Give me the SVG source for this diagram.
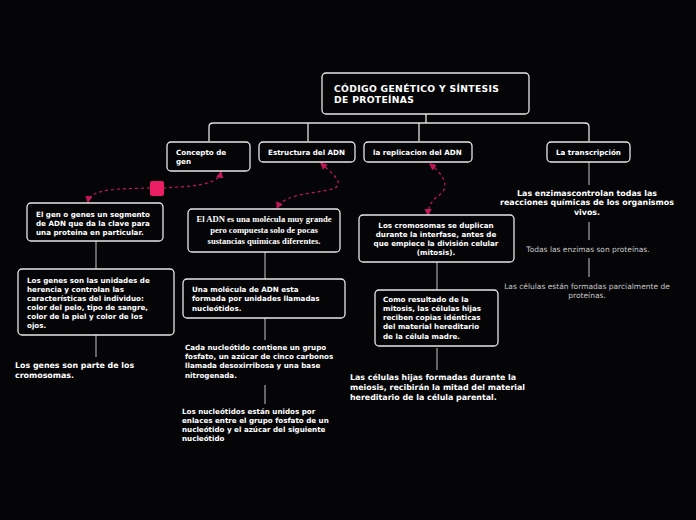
<svg xmlns="http://www.w3.org/2000/svg" width="696" height="520" viewBox="0 0 696 520">
<defs>
<style>
.bg{fill:#050507}
.box{fill:#050507;stroke:#e8e8e8;stroke-width:1.3}
.t{font-family:"DejaVu Sans",Verdana,sans-serif;font-weight:bold;fill:#ffffff;font-size:7.15px}
.tt{font-family:"DejaVu Sans",Verdana,sans-serif;font-weight:bold;fill:#ffffff;font-size:9.2px;letter-spacing:0.35px}
.big{font-family:"DejaVu Sans",Verdana,sans-serif;font-weight:bold;fill:#ffffff;font-size:7.9px}
.lt{font-family:"DejaVu Sans",Verdana,sans-serif;fill:#c8c8c8;font-size:7.5px}
.serif{font-family:"Liberation Serif","Times New Roman",serif;font-weight:bold;fill:#ffffff;font-size:8.6px}
.tree{fill:none;stroke:#e0e0e0;stroke-width:1.3}
.ln{fill:none;stroke:#9a9a9a;stroke-width:1.3}
.pk{fill:none;stroke:#c2185b;stroke-width:1.2;stroke-dasharray:3,3}
</style>
<marker id="ah" viewBox="0 0 6 6" refX="5" refY="3" markerWidth="6" markerHeight="6" orient="auto-start-reverse">
<path d="M0,0 L6,3 L0,6 z" fill="#c2185b"/>
</marker>
</defs>
<rect class="bg" x="0" y="0" width="696" height="520"/>

<g id="connectors">
<path class="tree" d="M426,114 V123 M209,141 V127 Q209,123 213,123 H585 Q589,123 589,127 V141 M308,141 V123 M419,141 V123"/>
<path class="ln" d="M96,241 V269"/>
<path class="ln" d="M96,335 V357"/>
<path class="ln" d="M265,252 V279"/>
<path class="ln" d="M265,318 V340"/>
<path class="ln" d="M265,385 V404"/>
<path class="ln" d="M437,262 V290"/>
<path class="ln" d="M437,348 V370"/>
<path class="ln" d="M589,162 V185"/>
<path class="ln" d="M589,222 V240"/>
<path class="ln" d="M589,258 V277"/>
<path class="pk" marker-start="url(#ah)" d="M221,172 C218,186 190,186 164,188"/>
<path class="pk" marker-end="url(#ah)" d="M150,188 C120,189 90,188 88,202"/>
<path class="pk" marker-start="url(#ah)" marker-end="url(#ah)" d="M321,163 C330,172 345,182 335,188 C320,194 285,192 277,208"/>
<path class="pk" marker-start="url(#ah)" marker-end="url(#ah)" d="M430,164 C440,172 450,183 442,193 C432,200 428,205 428,215"/>
<rect x="150" y="181" width="14" height="15" rx="2" fill="#e91e63"/>
</g>

<g id="title">
<rect class="box" x="322" y="73" width="207" height="41" rx="4"/>
<text class="tt" x="334" y="92">CÓDIGO GENÉTICO Y SÍNTESIS</text>
<text class="tt" x="334" y="103">DE PROTEÍNAS</text>
</g>

<g id="concepto">
<rect class="box" x="167" y="142" width="83" height="29" rx="4"/>
<text class="t" x="176" y="155">Concepto de</text>
<text class="t" x="176" y="164">gen</text>
</g>
<g id="estructura">
<rect class="box" x="259" y="142" width="96" height="20" rx="4"/>
<text class="t" x="268" y="155">Estructura del ADN</text>
</g>
<g id="replicacion">
<rect class="box" x="364" y="142" width="108" height="20" rx="4"/>
<text class="t" x="373" y="155">la replicacion del ADN</text>
</g>
<g id="transcripcion">
<rect class="box" x="547" y="142" width="83" height="20" rx="4"/>
<text class="t" x="556" y="155">La transcripción</text>
</g>

<g id="elgen">
<rect class="box" x="27" y="203" width="136" height="38" rx="4"/>
<text class="t" x="36" y="217">El gen o genes un segmento</text>
<text class="t" x="36" y="226">de ADN que da la clave  para</text>
<text class="t" x="36" y="235">una proteina en particular.</text>
</g>
<g id="losgenes">
<rect class="box" x="18" y="269" width="156" height="66" rx="4"/>
<text class="t" x="27" y="283">Los genes son las unidades de</text>
<text class="t" x="27" y="292">herencia y controlan las</text>
<text class="t" x="27" y="301">características del individuo:</text>
<text class="t" x="27" y="310">color del pelo, tipo de sangre,</text>
<text class="t" x="27" y="319">color de la piel y color de los</text>
<text class="t" x="27" y="328">ojos.</text>
</g>
<g id="cromosomas">
<text class="big" x="15" y="368">Los genes son parte de los</text>
<text class="big" x="15" y="378">cromosomas.</text>
</g>

<g id="eladn">
<rect class="box" x="188" y="209" width="152" height="43" rx="4"/>
<text class="serif" x="264" y="222" text-anchor="middle">El ADN es una molécula muy grande</text>
<text class="serif" x="264" y="233" text-anchor="middle">pero compuesta solo de pocas</text>
<text class="serif" x="264" y="244" text-anchor="middle">sustancias químicas diferentes.</text>
</g>
<g id="molecula">
<rect class="box" x="183" y="279" width="162" height="39" rx="4"/>
<text class="t" x="192" y="292">Una molécula de ADN esta</text>
<text class="t" x="192" y="301">formada por unidades llamadas</text>
<text class="t" x="192" y="311">nucleótidos.</text>
</g>
<g id="cada">
<text class="t" x="185" y="350">Cada nucleótido contiene un grupo</text>
<text class="t" x="185" y="359">fosfato, un azúcar de cinco carbonos</text>
<text class="t" x="185" y="368">llamada desoxirribosa y una base</text>
<text class="t" x="185" y="378">nitrogenada.</text>
</g>
<g id="losnucleotidos">
<text class="t" x="182" y="414">Los nucleótidos están unidos por</text>
<text class="t" x="182" y="423">enlaces entre el grupo fosfato de  un</text>
<text class="t" x="182" y="432">nucleótido y el azúcar del siguiente</text>
<text class="t" x="182" y="441">nucleótido</text>
</g>

<g id="loscromosomas">
<rect class="box" x="359" y="215" width="155" height="47" rx="4"/>
<text class="t" x="436" y="228" text-anchor="middle">Los cromosomas se duplican</text>
<text class="t" x="436" y="237" text-anchor="middle">durante la interfase, antes de</text>
<text class="t" x="436" y="246" text-anchor="middle">que empiece la división celular</text>
<text class="t" x="436" y="255" text-anchor="middle">(mitosis).</text>
</g>
<g id="comoresultado">
<rect class="box" x="375" y="290" width="123" height="56" rx="4"/>
<text class="t" x="383" y="302">Como resultado de la</text>
<text class="t" x="383" y="311">mitosis, las células hijas</text>
<text class="t" x="383" y="320">reciben copias idénticas</text>
<text class="t" x="383" y="329">del material hereditario</text>
<text class="t" x="383" y="339">de la célula madre.</text>
</g>
<g id="celulashijas">
<text class="big" x="350" y="380">Las células hijas formadas durante la</text>
<text class="big" x="350" y="390">meiosis, recibirán la mitad del material</text>
<text class="big" x="350" y="400">hereditario de la célula parental.</text>
</g>

<g id="enzimas">
<text class="big" x="587" y="196" text-anchor="middle">Las enzimascontrolan todas las</text>
<text class="big" x="587" y="205" text-anchor="middle">reacciones químicas de los organismos</text>
<text class="big" x="587" y="215" text-anchor="middle">vivos.</text>
</g>
<g id="todas">
<text class="lt" x="588" y="252" text-anchor="middle">Todas las enzimas son proteínas.</text>
</g>
<g id="lascelulas">
<text class="lt" x="587" y="289" text-anchor="middle">Las células están formadas parcialmente de</text>
<text class="lt" x="587" y="298" text-anchor="middle">proteínas.</text>
</g>
</svg>
